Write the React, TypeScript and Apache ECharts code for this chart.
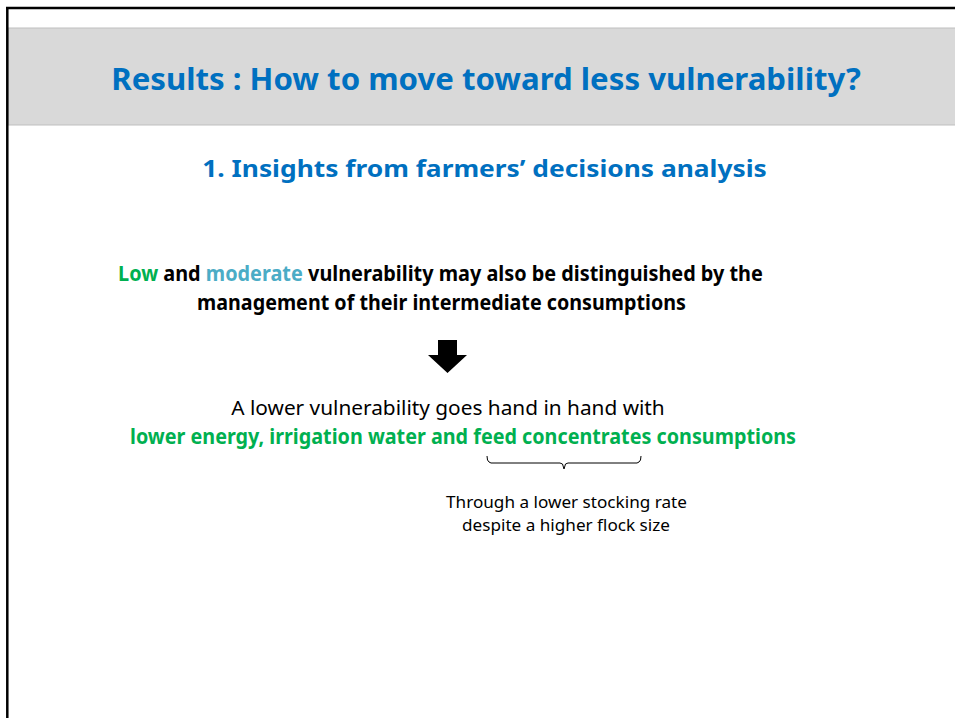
import React, { useEffect, useRef } from "react";
import * as echarts from "echarts";

// ---- Slide content (text) ----
const TITLE = "Results : How to move toward less vulnerability?";
const SUBTITLE = "1. Insights from farmers’ decisions analysis";
const INTRO_LINE_1_PARTS = [
  { text: "Low", style: "low" },
  { text: " and ", style: "b" },
  { text: "moderate", style: "mod" },
  { text: " vulnerability may also be distinguished by the", style: "b" },
];
const INTRO_LINE_2 = "management of their intermediate consumptions";
const RESULT_LINE_1 = "A lower vulnerability goes hand in hand with";
const RESULT_LINE_2 = "lower energy, irrigation water and feed concentrates consumptions";
const NOTE_LINES = ["Through a lower stocking rate", "despite a higher flock size"];

const FONT = '"Noto Sans", "Open Sans", sans-serif';
const BLUE = "#0070C0";
const GREEN = "#00B050";
const TEAL = "#4BACC6";

function measure(text: string, size: number, weight: string) {
  const c = document.createElement("canvas");
  const ctx = c.getContext("2d")!;
  ctx.font = `${weight} ${size}px ${FONT}`;
  return ctx.measureText(text).width;
}

function textEl(
  text: string,
  cx: number,
  cy: number,
  size: number,
  weight: string,
  color: string,
  targetW: number
) {
  const w = measure(text, size, weight);
  return {
    type: "text",
    x: cx,
    y: cy,
    scaleX: targetW / w,
    silent: true,
    style: {
      text,
      fill: color,
      font: `${weight} ${size}px ${FONT}`,
      textAlign: "center",
      textVerticalAlign: "middle",
    },
  };
}

export default function App() {
  const ref = useRef<HTMLDivElement>(null);

  useEffect(() => {
    document.body.style.margin = "0";
    const chart = echarts.init(ref.current!, undefined, { renderer: "svg" });

    const introSize = 21;
    const introFull = INTRO_LINE_1_PARTS.map((p) => p.text).join("");
    const introW = measure(introFull, introSize, "bold");
    const richText = INTRO_LINE_1_PARTS.map(
      (p) => `{${p.style}|${p.text.replace(/ /g, " ")}}`
    ).join("");

    const graphic: any[] = [
      // gray title band
      {
        type: "rect",
        silent: true,
        shape: { x: 8, y: 28, width: 960, height: 97 },
        style: { fill: "#d9d9d9", stroke: "#bfbfbf", lineWidth: 1.2 },
      },
      // slide black borders
      {
        type: "line",
        silent: true,
        shape: { x1: 6, y1: 8, x2: 955, y2: 8 },
        style: { stroke: "#000", lineWidth: 2.5 },
      },
      {
        type: "line",
        silent: true,
        shape: { x1: 7.3, y1: 7, x2: 7.3, y2: 718 },
        style: { stroke: "#000", lineWidth: 2.5 },
      },
      textEl(TITLE, 486, 78, 31, "bold", BLUE, 750),
      textEl(SUBTITLE, 484.5, 168, 23.5, "bold", BLUE, 565),
      {
        type: "text",
        x: 440.5,
        y: 273,
        scaleX: 645 / introW,
        silent: true,
        style: {
          text: richText,
          font: `bold ${introSize}px ${FONT}`,
          textAlign: "center",
          textVerticalAlign: "middle",
          rich: {
            low: { fill: GREEN, font: `bold ${introSize}px ${FONT}` },
            mod: { fill: TEAL, font: `bold ${introSize}px ${FONT}` },
            b: { fill: "#000", font: `bold ${introSize}px ${FONT}` },
          },
        },
      },
      textEl(INTRO_LINE_2, 441.5, 302, introSize, "bold", "#000", 489),
      // down arrow
      {
        type: "polygon",
        silent: true,
        shape: {
          points: [
            [438, 340],
            [457, 340],
            [457, 355],
            [467, 355],
            [447.5, 373],
            [428, 355],
            [438, 355],
          ],
        },
        style: { fill: "#000" },
      },
      textEl(RESULT_LINE_1, 448, 407, 19.5, "normal", "#000", 434),
      textEl(RESULT_LINE_2, 463, 436, 20.5, "bold", GREEN, 666),
      // brace
      {
        type: "polyline",
        silent: true,
        shape: {
          points: [
            [487, 456],
            [487.5, 460],
            [489, 462],
            [491, 463],
            [560, 463],
            [562.5, 464],
            [564, 469],
            [565.5, 464],
            [568, 463],
            [637, 463],
            [639, 462],
            [640.5, 460],
            [641, 456],
          ],
        },
        style: { stroke: "#000", lineWidth: 1, fill: null },
      },
      textEl(NOTE_LINES[0], 566.5, 502, 16.5, "normal", "#000", 241),
      textEl(NOTE_LINES[1], 566, 525, 16.5, "normal", "#000", 208),
    ];

    chart.setOption({
      animation: false,
      backgroundColor: "#ffffff",
      graphic,
    });

    return () => chart.dispose();
  }, []);

  return <div ref={ref} style={{ width: 955, height: 718 }} />;
}
